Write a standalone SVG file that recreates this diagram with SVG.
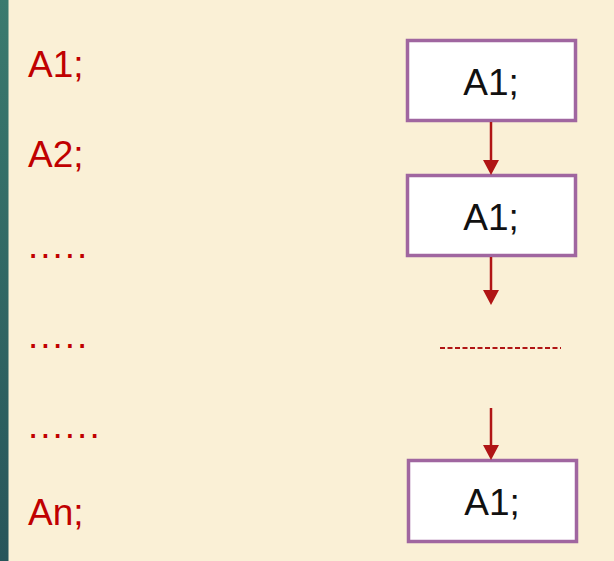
<svg xmlns="http://www.w3.org/2000/svg" width="614" height="561" viewBox="0 0 614 561">
  <defs>
    <linearGradient id="bar" x1="0" y1="0" x2="0" y2="1">
      <stop offset="0" stop-color="#3a7a6e"/>
      <stop offset="1" stop-color="#27555a"/>
    </linearGradient>
    <style>
      .code { font-family: "Liberation Sans", Arial, sans-serif; font-size: 37px; fill: #c00000; }
      .dots { letter-spacing: 2px; }
      .box { fill: #ffffff; stroke: #a066a0; stroke-width: 3.5; }
      .label { font-family: "Liberation Sans", Arial, sans-serif; font-size: 37px; fill: #111111; text-anchor: middle; }
      .flow { stroke: #b01515; stroke-width: 2.5; fill: none; }
      .tip { fill: #b01515; }
    </style>
  </defs>

  <rect x="0" y="0" width="614" height="561" fill="#faf0d6"/>
  <rect x="0" y="0" width="8.5" height="561" fill="url(#bar)"/>

  <!-- statement list -->
  <g id="code-list">
    <text class="code" x="28" y="77">A1;</text>
    <text class="code" x="28" y="167">A2;</text>
    <text class="code dots" x="28" y="258">.....</text>
    <text class="code dots" x="28" y="348">.....</text>
    <text class="code dots" x="28" y="438">......</text>
    <text class="code" x="28" y="525">An;</text>
  </g>

  <!-- flow nodes -->
  <g id="node-1">
    <rect class="box" x="407.5" y="40.5" width="168" height="80"/>
    <text class="label" x="491" y="95">A1;</text>
  </g>
  <g id="node-2">
    <rect class="box" x="407.5" y="175.5" width="168" height="80"/>
    <text class="label" x="491" y="230">A1;</text>
  </g>
  <g id="node-3">
    <rect class="box" x="408.5" y="460.5" width="168" height="81"/>
    <text class="label" x="492" y="515">A1;</text>
  </g>

  <!-- connectors -->
  <g id="connectors">
    <line class="flow" x1="491" y1="122" x2="491" y2="162"/>
    <path class="tip" d="M483,160 L499,160 L491,175 Z"/>
    <line class="flow" x1="491" y1="257" x2="491" y2="292"/>
    <path class="tip" d="M483,290 L499,290 L491,305 Z"/>
    <line class="flow" x1="491" y1="408" x2="491" y2="447"/>
    <path class="tip" d="M483,445 L499,445 L491,460 Z"/>
    <line x1="440" y1="348" x2="561" y2="348" stroke="#b01515" stroke-width="1.8" stroke-dasharray="5,2.5"/>
  </g>
</svg>
